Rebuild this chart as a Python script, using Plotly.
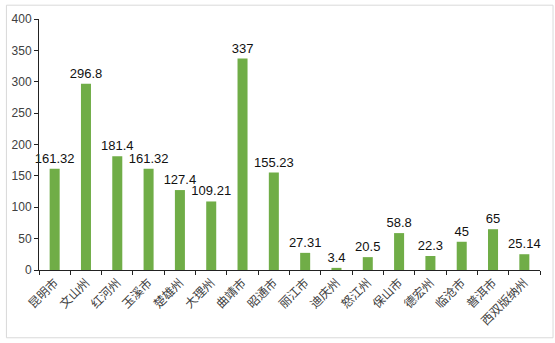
import plotly.graph_objects as go

cities = ["昆明市", "文山州", "红河州", "玉溪市", "楚雄州", "大理州", "曲靖市", "昭通市",
          "丽江市", "迪庆州", "怒江州", "保山市", "德宏州", "临沧市", "普洱市", "西双版纳州"]
values = [161.32, 296.8, 181.4, 161.32, 127.4, 109.21, 337, 155.23,
          27.31, 3.4, 20.5, 58.8, 22.3, 45, 65, 25.14]
labels = ["161.32", "296.8", "181.4", "161.32", "127.4", "109.21", "337", "155.23",
          "27.31", "3.4", "20.5", "58.8", "22.3", "45", "65", "25.14"]
yticks = [0, 50, 100, 150, 200, 250, 300, 350, 400]

fig = go.Figure(go.Bar(
    x=cities, y=values, text=labels, textposition="outside",
    textfont=dict(size=13, color="#111111"),
    marker=dict(color="#70AD47", line=dict(width=0)),
    cliponaxis=False,
))

fig.update_layout(
    width=555, height=343,
    margin=dict(l=36, r=15, t=15, b=73),
    paper_bgcolor="white", plot_bgcolor="white",
    font=dict(family="Liberation Sans, Noto Sans CJK SC, sans-serif", size=11, color="#333333"),
    bargap=0.68,
    showlegend=False,
    uniformtext=dict(minsize=13, mode="show"),
    xaxis=dict(
        tickangle=-45, showline=True, linecolor="#222222", linewidth=1,
        ticks="outside", tickson="boundaries", ticklen=4, tickcolor="#222222",
        showgrid=False,
        tickfont=dict(family="Noto Sans CJK SC", size=12, color="#404040"),
    ),
    yaxis=dict(
        range=[0, 400], tickvals=yticks, showline=True, linecolor="#222222", linewidth=1,
        ticks="outside", ticklen=4, tickcolor="#222222", showgrid=False, zeroline=False,
        tickfont=dict(size=12, color="#404040"),
    ),
    shapes=[dict(type="rect", xref="paper", yref="paper", x0=-0.065, y0=-0.27, x1=1.026, y1=1.055,
                 line=dict(color="#D9D9D9", width=1))],
)

fig.write_html("out.html")
